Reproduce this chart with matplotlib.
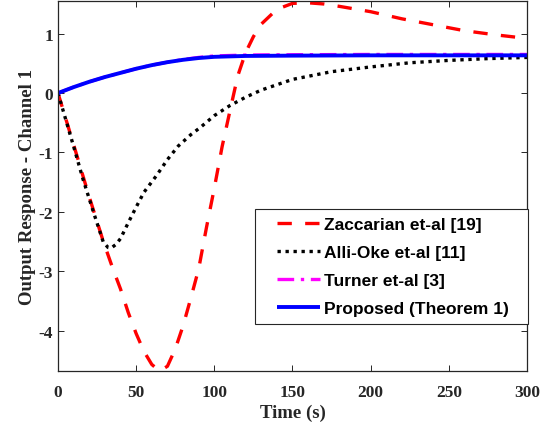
import matplotlib
matplotlib.use("Agg")
import matplotlib.pyplot as plt
from matplotlib.legend_handler import HandlerLine2D

# Data
t_zac = [0, 10, 20, 29, 35, 40, 45, 50, 55, 60, 65, 70, 75, 80, 85, 90, 95, 100, 105,
         110, 115, 120, 125, 130, 140, 150, 160, 170, 180, 200, 220, 240, 260, 280, 300]
y_zac = [0, -0.87, -1.75, -2.5, -2.95, -3.3, -3.7, -4.05, -4.35, -4.57, -4.68, -4.6,
         -4.31, -3.92, -3.45, -2.96, -2.26, -1.6, -0.9, -0.3, 0.29, 0.68, 0.95, 1.16,
         1.41, 1.51, 1.52, 1.5, 1.46, 1.37, 1.25, 1.15, 1.05, 0.98, 0.92]

t_alli = [0, 10, 16, 23, 29, 32, 34, 37, 40, 45, 50, 55, 63, 70, 77, 85, 91, 100, 110,
          120, 130, 140, 150, 175, 200, 225, 250, 275, 300]
y_alli = [0, -0.9, -1.45, -2.03, -2.51, -2.6, -2.61, -2.55, -2.45, -2.18, -1.92, -1.67,
          -1.39, -1.12, -0.89, -0.7, -0.58, -0.38, -0.21, -0.07, 0.05, 0.14, 0.23, 0.36,
          0.44, 0.51, 0.55, 0.58, 0.60]

t_turn = [0, 10, 20, 30, 40, 50, 60, 70, 80, 90, 100, 120, 150, 200, 250, 300]
y_turn = [0, 0.1, 0.19, 0.27, 0.34, 0.41, 0.47, 0.52, 0.565, 0.6, 0.625, 0.64, 0.645,
          0.65, 0.65, 0.65]

t_prop = [0, 10, 20, 30, 40, 50, 60, 70, 80, 90, 100, 120, 150, 200, 250, 300]
y_prop = [0, 0.1, 0.19, 0.27, 0.34, 0.41, 0.47, 0.52, 0.56, 0.59, 0.61, 0.625, 0.63,
          0.635, 0.635, 0.635]

labels = ["Zaccarian et-al [19]", "Alli-Oke et-al [11]", "Turner et-al [3]",
          "Proposed (Theorem 1)"]
x_ticks = [0, 50, 100, 150, 200, 250, 300]
y_ticks = [-4, -3, -2, -1, 0, 1]


class ShiftedLine(HandlerLine2D):
    """Legend line drawn in the right part of the handle box (MATLAB-like spacing)."""
    def __init__(self, shift=10, **kw):
        super().__init__(**kw)
        self.shift = shift

    def create_artists(self, legend, orig_handle, xdescent, ydescent, width, height,
                       fontsize, trans):
        return super().create_artists(legend, orig_handle, xdescent - self.shift,
                                      ydescent, width - self.shift, height, fontsize,
                                      trans)


fig = plt.figure(figsize=(5.55, 4.27), dpi=100)
ax = fig.add_axes([0.1045, 0.1288, 0.845, 0.8665])

l1, = ax.plot(t_zac, y_zac, color="red", lw=2.4, dashes=(4.3, 4), label=labels[0])
l2, = ax.plot(t_alli, y_alli, color="black", lw=2.4, dashes=(1, 1.4), label=labels[1])
l3, = ax.plot(t_turn, y_turn, color="magenta", lw=2.4, dashes=(5, 2, 1, 2), label=labels[2])
l4, = ax.plot(t_prop, y_prop, color="blue", lw=2.8, solid_capstyle="butt", label=labels[3])

ax.set_xlim(0, 300)
ax.set_ylim(-4.68, 1.55)
ax.set_xticks(x_ticks)
ax.set_yticks(y_ticks)

tick_font = dict(family="Liberation Serif", weight="bold", size=12.5)
ax.set_xticklabels([str(v) for v in x_ticks], fontdict=tick_font, color="#262626")
ax.set_yticklabels([str(v) for v in y_ticks], fontdict=tick_font, color="#262626")
ax.tick_params(direction="in", top=True, right=True, length=4, width=0.7,
               colors="#262626")
ax.tick_params(axis="x", pad=9)
ax.tick_params(axis="y", pad=3.5)
for s in ax.spines.values():
    s.set_color("#262626")
    s.set_linewidth(0.9)

ax.set_xlabel("Time (s)", family="Liberation Serif", weight="bold", size=13.5,
              color="#262626", labelpad=3)
ax.set_ylabel("Output Response - Channel 1", family="Liberation Serif", weight="bold",
              size=13.5, color="#262626", labelpad=2)

h = ShiftedLine(shift=10)
leg = ax.legend(handles=[l1, l2, l3, l4], loc="upper left",
                bbox_to_anchor=(0.42, 0.0, 0.582, 0.438), mode="expand",
                borderaxespad=0,
                prop=dict(family="Liberation Sans", weight="bold", size=12.5),
                handlelength=3.28, handletextpad=0.23, labelspacing=0.75,
                fancybox=False, framealpha=1, edgecolor="#262626", borderpad=0.45,
                handler_map={l1: h, l2: h, l3: h, l4: h})
leg.get_frame().set_linewidth(0.8)

fig.savefig("out.png", dpi=100)
